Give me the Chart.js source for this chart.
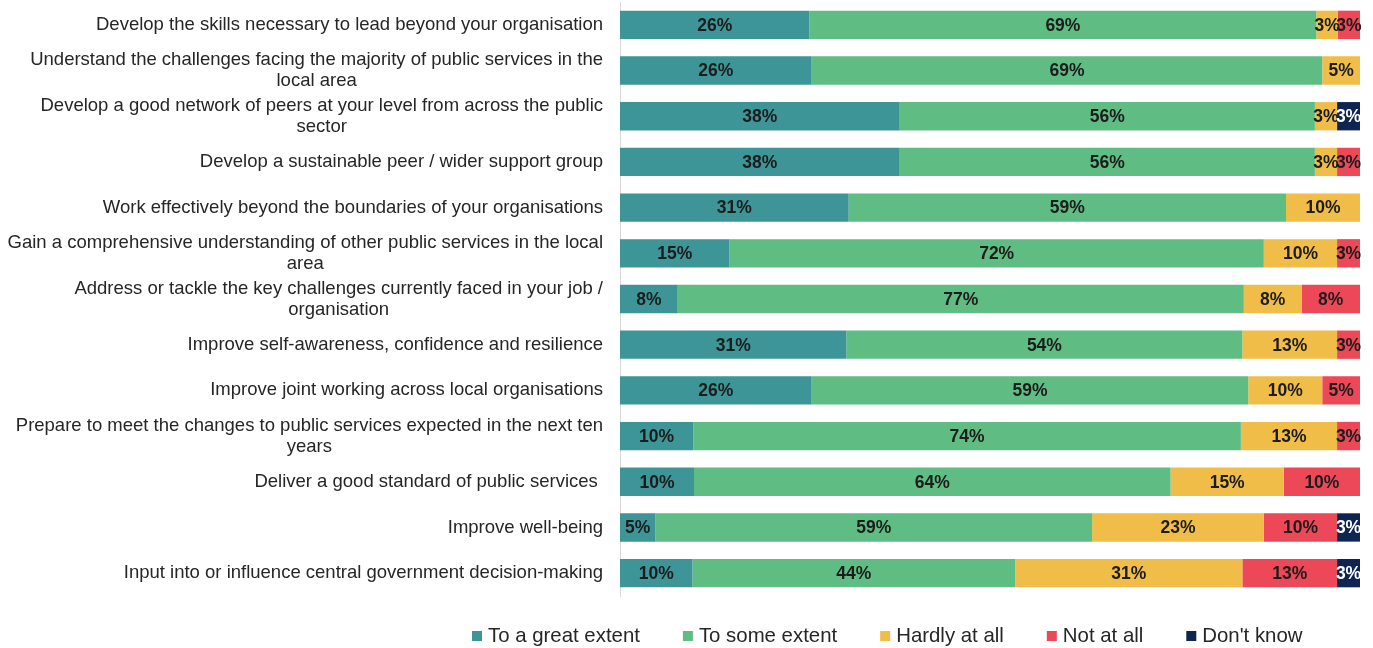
<!DOCTYPE html>
<html lang="en">
<head>
<meta charset="UTF-8">
<title>Programme outcomes</title>
<script src="https://cdn.jsdelivr.net/npm/chart.js"></script>
<style>
  html, body { margin: 0; padding: 0; background: #fff; }
  #wrap { position: relative; width: 1373px; height: 648px; }
</style>
</head>
<body>
<div id="wrap"><canvas id="viz"></canvas></div>
<script>
// rows, top to bottom
const categories = [
  'Develop the skills necessary to lead beyond your organisation',
  ['Understand the challenges facing the majority of public services in the', 'local area'],
  ['Develop a good network of peers at your level from across the public', 'sector'],
  'Develop a sustainable peer / wider support group',
  'Work effectively beyond the boundaries of your organisations',
  ['Gain a comprehensive understanding of other public services in the local', 'area'],
  ['Address or tackle the key challenges currently faced in your job /', 'organisation'],
  'Improve self-awareness, confidence and resilience',
  'Improve joint working across local organisations',
  ['Prepare to meet the changes to public services expected in the next ten', 'years'],
  'Deliver a good standard of public services ',
  'Improve well-being',
  'Input into or influence central government decision-making'
]

const seriesNames = ['To a great extent', 'To some extent', 'Hardly at all', 'Not at all', "Don't know"]

// % of respondents
const greatExtent = [25.6, 25.9, 37.8, 37.8, 30.9, 14.8, 7.8, 30.6, 25.9, 9.9, 10.0, 4.8, 9.8]
const someExtent  = [68.5, 69.0, 56.1, 56.1, 59.1, 72.2, 76.5, 53.5, 59.0, 74.0, 64.4, 59.0, 43.6]
const hardlyAtAll = [2.9, 5.1, 3.0, 3.0, 10.0, 9.9, 7.8, 12.8, 10.0, 13.0, 15.3, 23.2, 30.7]
const notAtAll    = [3.0, 0, 0, 3.1, 0, 3.1, 7.9, 3.1, 5.1, 3.1, 10.3, 9.9, 12.8]
const dontKnow    = [0, 0, 3.1, 0, 0, 0, 0, 0, 0, 0, 0, 3.1, 3.1]

const colors = ['#3e9598', '#5fbd84', '#f0be48', '#ec4858', '#0e2554']
const valueColors = ['#1c1c1c', '#1c1c1c', '#1c1c1c', '#1c1c1c', '#ffffff']

const FONT = '"Liberation Sans", Arial, sans-serif'

// percentage text in the middle of each segment
const barLabels = {
  id: 'barLabels',
  afterDatasetsDraw(chart) {
    const ctx = chart.ctx
    ctx.save()
    ctx.font = 'bold 17.5px ' + FONT
    ctx.textAlign = 'center'
    ctx.textBaseline = 'middle'
    chart.data.datasets.forEach((ds, i) => {
      chart.getDatasetMeta(i).data.forEach((bar, j) => {
        const v = ds.data[j]
        if (!v) return
        ctx.fillStyle = valueColors[i]
        ctx.fillText(Math.round(v) + '%', (bar.x + bar.base) / 2, bar.y + 1)
      })
    })
    ctx.restore()
  }
}

// row labels: right aligned block, wrapped lines centred inside it
const rowLabels = {
  id: 'rowLabels',
  afterDraw(chart) {
    const ctx = chart.ctx
    const yScale = chart.scales.y
    const right = chart.chartArea.left - 17
    ctx.save()
    ctx.font = '18.5px ' + FONT
    ctx.fillStyle = '#262626'
    ctx.textAlign = 'center'
    ctx.textBaseline = 'middle'
    categories.forEach((lab, i) => {
      const lines = [].concat(lab)
      const w = Math.max(...lines.map(l => ctx.measureText(l).width))
      const cy = yScale.getPixelForValue(i)
      lines.forEach((l, k) => {
        ctx.fillText(l, right - w / 2, cy + (k - (lines.length - 1) / 2) * 21)
      })
    })
    ctx.restore()
  }
}

const bottomLegend = {
  id: 'bottomLegend',
  afterDraw(chart) {
    const ctx = chart.ctx
    const y = 636
    let x = 472
    ctx.save()
    ctx.font = '20.4px ' + FONT
    ctx.textBaseline = 'middle'
    ctx.textAlign = 'left'
    chart.data.datasets.forEach(ds => {
      ctx.fillStyle = ds.backgroundColor
      ctx.fillRect(x, y - 5, 10, 10)
      ctx.fillStyle = '#262626'
      ctx.fillText(ds.label, x + 16, y)
      x += 16 + ctx.measureText(ds.label).width + 43
    })
    ctx.restore()
  }
}

const series = [greatExtent, someExtent, hardlyAtAll, notAtAll, dontKnow]

new Chart(document.getElementById('viz'), {
  type: 'bar',
  data: {
    labels: categories,
    datasets: series.map((d, i) => ({
      label: seriesNames[i],
      data: d,
      backgroundColor: colors[i],
      borderWidth: 0,
      barPercentage: 0.62,
      categoryPercentage: 1
    }))
  },
  options: {
    indexAxis: 'y',
    responsive: true,
    maintainAspectRatio: false,
    animation: false,
    layout: { padding: { top: 2, right: 13, bottom: 52, left: 0 } },
    scales: {
      x: { stacked: true, min: 0, max: 100, display: false },
      y: {
        stacked: true,
        grid: { display: false },
        border: { color: '#d9d9d9', width: 1 },
        ticks: { display: false },
        afterFit(scale) { scale.width = 620 }
      }
    },
    plugins: {
      legend: { display: false },
      tooltip: { enabled: false }
    }
  },
  plugins: [barLabels, rowLabels, bottomLegend]
})
</script>
</body>
</html>
